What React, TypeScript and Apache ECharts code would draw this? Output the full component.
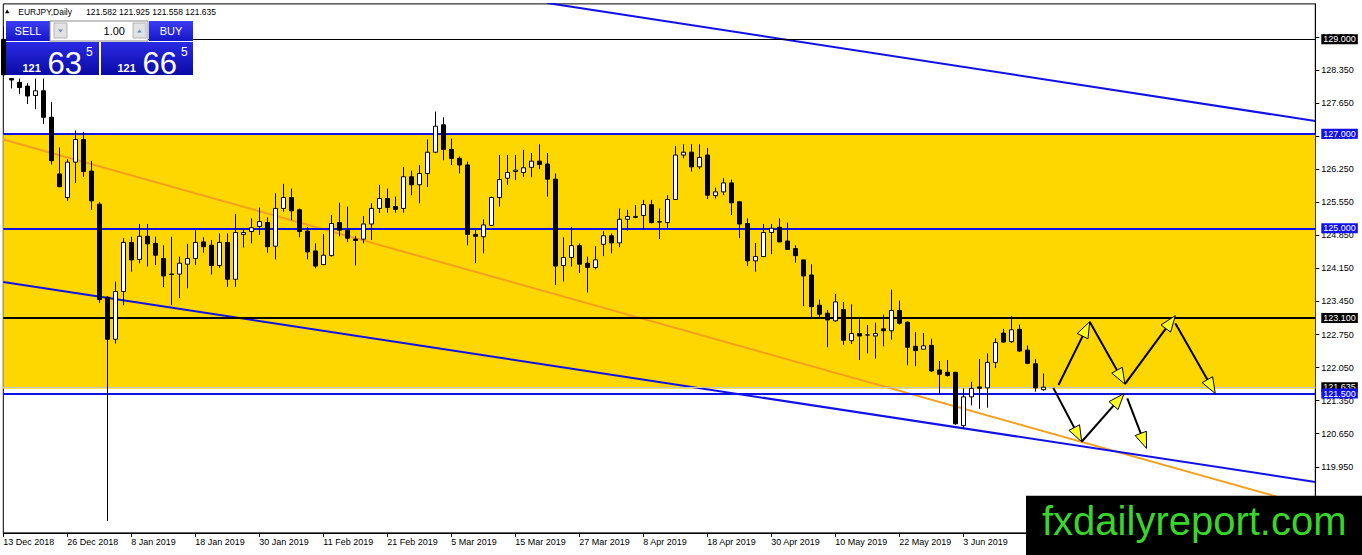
import { useEffect, useRef } from 'react'
import * as echarts from 'echarts'

// EURJPY daily bars, 13 Dec 2018 .. 17 Jun 2019 — [open, close, low, high]
const eurjpyDaily: number[][] = [
  [129.00, 128.25, 128.20, 129.26], [128.17, 128.14, 127.96, 128.18], [128.09, 127.98, 127.84, 128.17],
  [128.01, 127.80, 127.63, 128.07], [127.81, 127.91, 127.52, 128.17], [127.91, 127.35, 127.21, 128.17],
  [127.35, 126.43, 126.35, 127.67], [126.15, 125.88, 125.87, 126.71], [125.65, 126.40, 125.58, 126.46],
  [126.40, 126.88, 125.96, 127.07], [126.88, 126.20, 126.09, 127.04], [126.21, 125.58, 125.39, 126.43],
  [125.51, 123.49, 123.42, 125.56], [123.54, 122.65, 118.80, 123.56], [122.65, 123.66, 122.56, 123.87],
  [123.66, 124.70, 123.37, 124.79], [124.70, 124.33, 124.08, 124.82], [124.34, 124.83, 124.26, 125.09],
  [124.83, 124.67, 124.19, 125.09], [124.68, 124.43, 124.22, 124.82], [124.36, 123.99, 123.75, 124.64],
  [124.03, 124.02, 123.37, 124.82], [124.03, 124.26, 123.52, 124.40], [124.24, 124.36, 123.73, 124.67],
  [124.36, 124.70, 124.22, 124.96], [124.71, 124.61, 124.48, 124.81], [124.64, 124.21, 124.02, 124.75],
  [124.21, 124.70, 124.16, 124.89], [124.70, 123.92, 123.76, 124.89], [123.92, 124.91, 123.76, 125.30],
  [124.87, 124.91, 124.59, 124.99], [124.93, 125.01, 124.68, 125.21], [125.04, 125.14, 124.86, 125.44],
  [125.12, 124.61, 124.48, 125.23], [124.62, 125.42, 124.34, 125.74], [125.42, 125.65, 125.35, 125.94],
  [125.65, 125.37, 125.17, 125.84], [125.39, 124.93, 124.81, 125.42], [124.94, 124.50, 124.34, 125.03],
  [124.52, 124.20, 124.15, 124.68], [124.23, 124.43, 124.23, 124.88], [124.42, 125.10, 124.40, 125.28],
  [125.12, 124.96, 124.83, 125.54], [124.96, 124.79, 124.71, 125.46], [124.77, 124.74, 124.21, 124.84],
  [124.77, 125.09, 124.68, 125.26], [125.09, 125.42, 124.75, 125.53], [125.42, 125.63, 125.32, 125.92],
  [125.63, 125.44, 125.33, 125.84], [125.46, 125.40, 125.33, 125.67], [125.42, 126.09, 125.33, 126.30],
  [126.09, 125.92, 125.70, 126.22], [125.92, 126.16, 125.53, 126.34], [126.16, 126.61, 125.87, 126.88],
  [126.61, 127.16, 126.59, 127.47], [127.19, 126.67, 126.44, 127.35], [126.67, 126.48, 126.34, 126.90],
  [126.48, 126.34, 126.16, 126.52], [126.34, 124.87, 124.64, 126.41], [124.87, 124.83, 124.26, 125.00],
  [124.82, 125.07, 124.47, 125.19], [125.06, 125.65, 125.05, 125.67], [125.65, 126.03, 125.46, 126.55],
  [126.06, 126.18, 125.92, 126.55], [126.20, 126.23, 126.02, 126.55], [126.18, 126.28, 126.09, 126.66],
  [126.29, 126.42, 126.08, 126.59], [126.42, 126.35, 126.25, 126.78], [126.36, 126.04, 125.67, 126.59],
  [126.04, 124.20, 123.80, 126.16], [124.21, 124.38, 123.87, 124.81], [124.38, 124.63, 124.19, 125.03],
  [124.63, 124.24, 124.05, 124.68], [124.26, 124.17, 123.64, 124.40], [124.17, 124.33, 124.13, 124.62],
  [124.66, 124.84, 124.41, 124.94], [124.84, 124.69, 124.47, 124.89], [124.69, 125.19, 124.60, 125.42],
  [125.19, 125.25, 124.95, 125.39], [125.23, 125.25, 125.21, 125.49], [125.27, 125.50, 124.98, 125.60],
  [125.50, 125.12, 125.10, 125.60], [125.13, 125.14, 124.77, 125.42], [125.12, 125.61, 125.00, 125.70],
  [125.61, 126.55, 125.60, 126.74], [126.55, 126.61, 126.48, 126.78], [126.61, 126.30, 126.20, 126.78],
  [126.30, 126.50, 126.25, 126.78], [126.55, 125.70, 125.62, 126.70], [125.69, 125.77, 125.63, 125.86],
  [125.77, 125.96, 125.70, 126.06], [125.96, 125.54, 125.28, 126.03], [125.56, 125.09, 124.79, 125.58],
  [125.10, 124.31, 124.20, 125.21], [124.31, 124.40, 124.08, 124.69], [124.40, 124.91, 124.40, 125.09],
  [124.91, 125.00, 124.45, 125.09], [125.02, 124.71, 124.71, 125.21], [124.73, 124.55, 124.54, 125.12],
  [124.57, 124.42, 124.27, 124.64], [124.33, 123.99, 123.35, 124.33], [124.01, 123.34, 123.09, 124.24],
  [123.37, 123.18, 123.09, 123.49], [123.20, 123.06, 122.48, 123.27], [123.04, 123.44, 123.02, 123.61],
  [123.28, 122.63, 122.53, 123.44], [122.62, 122.77, 122.55, 123.39], [122.77, 122.72, 122.21, 123.07],
  [122.74, 122.74, 122.35, 122.95], [122.72, 122.77, 122.24, 123.00], [122.87, 122.83, 122.50, 123.17],
  [122.83, 123.26, 122.64, 123.70], [123.26, 122.99, 122.96, 123.47], [123.01, 122.48, 122.10, 123.03],
  [122.50, 122.41, 122.08, 122.80], [122.44, 122.51, 122.44, 122.78], [122.52, 121.98, 121.96, 122.66],
  [122.00, 121.91, 121.50, 122.19], [121.95, 121.88, 121.86, 122.21], [121.95, 120.86, 120.84, 121.96],
  [120.82, 121.43, 120.75, 121.61], [121.43, 121.61, 121.25, 121.75], [121.64, 121.61, 121.18, 122.23],
  [121.62, 122.16, 121.20, 122.35], [122.16, 122.58, 122.04, 122.67], [122.78, 122.59, 122.57, 122.87],
  [122.60, 122.85, 122.57, 123.14], [122.86, 122.40, 122.38, 122.96], [122.42, 122.14, 122.12, 122.52],
  [122.13, 121.62, 121.54, 122.23], [121.582, 121.635, 121.558, 121.925],
]

// one date label every 8 bars
const tickLabels = [
  '13 Dec 2018', '26 Dec 2018', '8 Jan 2019', '18 Jan 2019', '30 Jan 2019', '11 Feb 2019',
  '21 Feb 2019', '5 Mar 2019', '15 Mar 2019', '27 Mar 2019', '8 Apr 2019', '18 Apr 2019',
  '30 Apr 2019', '10 May 2019', '22 May 2019', '3 Jun 2019',
]
const LABEL_STEP = 8
const BAR_SLOTS = 165 // bars plus the empty chart shift on the right

// horizontal levels
const blackLevels = [129.0, 123.1]
const blueLevels = [127.0, 125.0, 121.5]
const bidPrice = 121.635
const zoneTop = 127.0
const zoneBottom = 121.6

// trend lines, [bar index, price]
const upperChannel = [[67.96, 129.77], [164, 127.27]]
const lowerChannel = [[0, 123.86], [164, 119.63]]
const orangeTrend = [[0, 126.88], [164, 119.09]]

// projected paths, [from bar, from price, to bar, to price]
const upperPath = [
  [131.9, 121.68, 135.8, 123.02],
  [135.8, 123.02, 140.2, 121.70],
  [140.2, 121.70, 146.5, 123.15],
  [146.5, 122.99, 151.5, 121.50],
]
const lowerPath = [
  [131.25, 121.62, 134.8, 120.48],
  [134.8, 120.48, 140.1, 121.50],
  [140.5, 121.40, 142.9, 120.34],
]

// header quote: open, high, low, close; one-click panel bid / ask
const lastQuote = ['121.582', '121.925', '121.558', '121.635']
const bidAsk = ['121.635', '121.665']
const lotSize = '1.00'

const FONT = '"Liberation Sans", Arial, sans-serif'
const BLUE = '#1111e6'

const categories = Array.from({ length: BAR_SLOTS }, (_, i) => String(i))
const labelAt = (i: number) => (i % LABEL_STEP === 0 ? tickLabels[i / LABEL_STEP] ?? '' : '')

const txt = (x: number, y: number, text: string, size: number, fill: string, align = 'left', weight = 'normal') => ({
  type: 'text',
  x,
  y,
  z: 100,
  style: {
    text,
    fill,
    font: `${weight} ${size}px ${FONT}`,
    align,
    textAlign: align,
    verticalAlign: 'middle',
    textVerticalAlign: 'middle',
  },
})

const grad = (a: string, b: string) =>
  new echarts.graphic.LinearGradient(0, 0, 0, 1, [
    { offset: 0, color: a },
    { offset: 1, color: b },
  ])

function priceBox(x: number, w: number, price: string) {
  const [big, frac] = price.split('.')
  return [
    { type: 'rect', z: 100, shape: { x, y: 42, width: w, height: 33 }, style: { fill: grad('#2a2ae4', '#0a0aa6') } },
    txt(x + 16.5, 67.5, big, 11, '#fff', 'left', 'bold'),
    txt(x + 41.5, 63, frac.slice(0, 2), 31, '#fff'),
    txt(x + 80, 52, frac.slice(2), 12, '#fff'),
  ]
}

function tradePanel() {
  return [
    { type: 'rect', z: 100, shape: { x: 6, y: 21, width: 44, height: 20 }, style: { fill: grad('#3c3cf4', '#1616c8') } },
    txt(28, 31, 'SELL', 11, '#fff', 'center'),
    { type: 'rect', z: 100, shape: { x: 50, y: 21, width: 98, height: 20 }, style: { fill: '#fff', stroke: '#8a8a8a', lineWidth: 1 } },
    { type: 'rect', z: 100, shape: { x: 54, y: 23, width: 13, height: 15 }, style: { fill: '#e2e2e2', stroke: '#b4b4b4', lineWidth: 1 } },
    { type: 'polygon', z: 101, shape: { points: [[58, 29.5], [63, 29.5], [60.5, 32.5]] }, style: { fill: '#6f8fb0' } },
    txt(125, 31, lotSize, 11, '#000', 'right'),
    { type: 'rect', z: 100, shape: { x: 133, y: 23, width: 13, height: 15 }, style: { fill: '#e2e2e2', stroke: '#b4b4b4', lineWidth: 1 } },
    { type: 'polygon', z: 101, shape: { points: [[137, 32.5], [142, 32.5], [139.5, 29.5]] }, style: { fill: '#6f8fb0' } },
    { type: 'rect', z: 100, shape: { x: 149, y: 21, width: 44, height: 20 }, style: { fill: grad('#3c3cf4', '#1616c8') } },
    txt(171, 31, 'BUY', 11, '#fff', 'center'),
    ...priceBox(6, 93, bidAsk[0]),
    ...priceBox(101, 92, bidAsk[1]),
  ]
}

function arrowItem(_params: any, api: any) {
  const a = api.coord([api.value(0), api.value(1)])
  const b = api.coord([api.value(2), api.value(3)])
  const dx = b[0] - a[0]
  const dy = b[1] - a[1]
  const len = Math.hypot(dx, dy) || 1
  const ux = dx / len
  const uy = dy / len
  const bx = b[0] - ux * 16
  const by = b[1] - uy * 16
  return {
    type: 'group',
    children: [
      { type: 'line', shape: { x1: a[0], y1: a[1], x2: b[0] - ux * 4, y2: b[1] - uy * 4 }, style: { stroke: '#000', lineWidth: 2 } },
      {
        type: 'polygon',
        shape: { points: [[b[0], b[1]], [bx - uy * 6, by + ux * 6], [bx + uy * 6, by - ux * 6]] },
        style: { fill: '#ffff22', stroke: '#000', lineWidth: 1 },
      },
    ],
  }
}

const levelLabel = (bg: string) => ({
  show: true,
  position: 'end',
  distance: 6,
  formatter: (p: any) => Number(p.value).toFixed(3),
  color: '#fff',
  backgroundColor: bg,
  fontFamily: FONT,
  fontSize: 9,
  lineHeight: 9,
  padding: [1, 2, 0, 2],
})

const trend = (data: number[][], color: string) => ({
  type: 'line',
  xAxisIndex: 1,
  yAxisIndex: 0,
  data,
  symbol: 'none',
  silent: true,
  clip: true,
  z: 3,
  lineStyle: { color, width: 2 },
})

export default function App() {
  const ref = useRef<HTMLDivElement>(null)

  useEffect(() => {
    if (!ref.current) return
    const chart = echarts.init(ref.current, null, { renderer: 'svg' })

    chart.setOption({
      animation: false,
      backgroundColor: '#fff',
      grid: { left: 3.3, right: 46.7, top: 3.9, bottom: 22.1, show: true, borderColor: '#000', borderWidth: 1 },
      xAxis: [
        {
          type: 'category',
          data: categories,
          boundaryGap: false,
          position: 'bottom',
          axisLine: { show: true, onZero: false, lineStyle: { color: '#000', width: 1 } },
          axisTick: { show: true, length: 4, interval: (i: number) => labelAt(i) !== '', lineStyle: { color: '#000' } },
          axisLabel: {
            interval: 0,
            formatter: (_v: string, i: number) => labelAt(i),
            align: 'left',
            margin: 5,
            color: '#000',
            fontFamily: FONT,
            fontSize: 9,
          },
          splitLine: { show: false },
        },
        {
          type: 'value',
          min: 0,
          max: BAR_SLOTS - 1,
          show: false,
          axisLine: { onZero: false },
        },
      ],
      yAxis: [
        {
          type: 'value',
          position: 'right',
          min: 118.55,
          max: 129.75,
          interval: 0.7,
          axisLine: { show: true, onZero: false, lineStyle: { color: '#000', width: 1 } },
          axisTick: { show: true, length: 4, lineStyle: { color: '#000' } },
          axisLabel: {
            formatter: (v: number) => v.toFixed(3),
            margin: 6,
            color: '#000',
            fontFamily: FONT,
            fontSize: 9,
            showMaxLabel: false,
          },
          splitLine: { show: false },
        },
      ],
      series: [
        {
          type: 'line',
          xAxisIndex: 1,
          yAxisIndex: 0,
          data: [],
          silent: true,
          z: 1,
          markArea: {
            silent: true,
            z: 1,
            itemStyle: { color: '#ffd700', opacity: 1 },
            data: [[{ coord: [0, zoneTop] }, { coord: [BAR_SLOTS - 1, zoneBottom] }]],
          },
        },
        trend(orangeTrend, '#f5a01c'),
        trend(upperChannel, BLUE),
        trend(lowerChannel, BLUE),
        {
          type: 'line',
          xAxisIndex: 1,
          yAxisIndex: 0,
          data: [],
          silent: true,
          z: 4,
          markLine: {
            silent: true,
            z: 4,
            precision: 3,
            symbol: ['none', 'none'],
            data: [
              ...blackLevels.map((v) => ({
                yAxis: v,
                lineStyle: { color: '#000', width: v === 129.0 ? 1 : 2, type: 'solid' },
                label: levelLabel('#000'),
              })),
              { yAxis: bidPrice, lineStyle: { color: '#c6c6c6', width: 1, type: 'solid' }, label: levelLabel('#000') },
              ...blueLevels.map((v) => ({
                yAxis: v,
                lineStyle: { color: BLUE, width: 2, type: 'solid' },
                label: levelLabel(BLUE),
              })),
            ],
          },
        },
        {
          type: 'candlestick',
          xAxisIndex: 0,
          yAxisIndex: 0,
          data: eurjpyDaily,
          barWidth: 5,
          silent: true,
          z: 10,
          itemStyle: { color: '#fff', color0: '#000', borderColor: '#000', borderColor0: '#000', borderWidth: 1 },
        },
        {
          type: 'custom',
          xAxisIndex: 1,
          yAxisIndex: 0,
          data: [...upperPath, ...lowerPath],
          encode: { x: [0, 2], y: [1, 3] },
          renderItem: arrowItem,
          silent: true,
          z: 12,
        },
      ],
      graphic: [
        { type: 'polygon', z: 100, shape: { points: [[5, 13.3], [9.4, 13.3], [7.2, 9.6]] }, style: { fill: '#000' } },
        txt(18.3, 11.5, 'EURJPY,Daily', 8.5, '#000'),
        txt(86, 11.5, lastQuote.join(' '), 8.5, '#000'),
        ...tradePanel(),
        { type: 'rect', z: 110, shape: { x: 1026, y: 495.7, width: 336, height: 60 }, style: { fill: '#000' } },
        { ...txt(1042, 521, 'fxdailyreport.com', 40, '#3ad52a'), z: 111 },
      ],
    })

    return () => chart.dispose()
  }, [])

  return <div ref={ref} style={{ position: 'absolute', left: 0, top: 0, width: 1362, height: 555 }} />
}
